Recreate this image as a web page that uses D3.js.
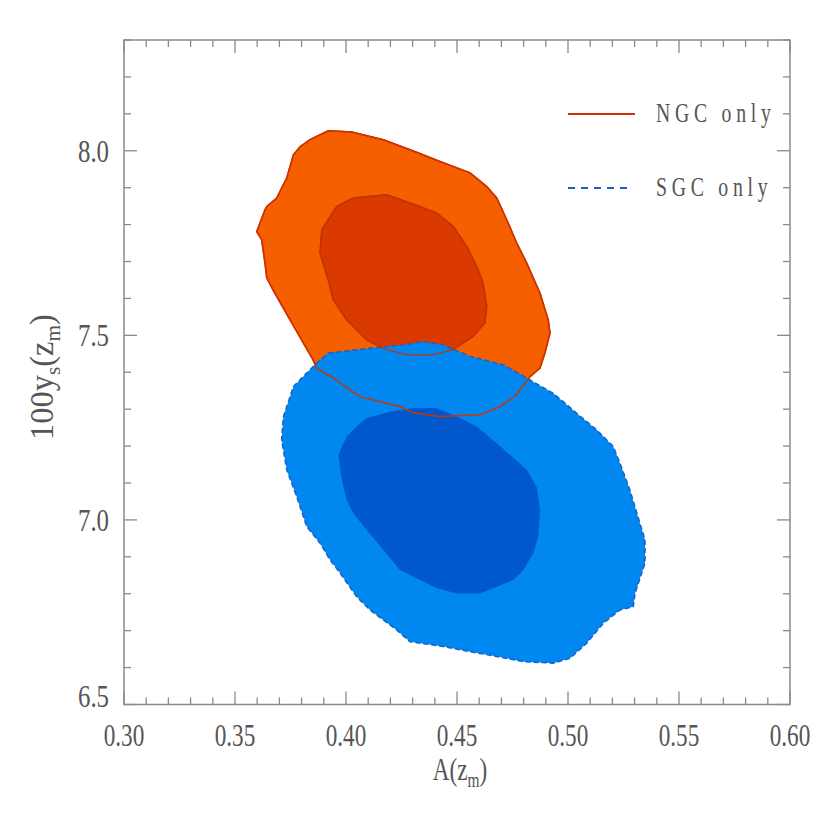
<!DOCTYPE html>
<html>
<head>
<meta charset="utf-8">
<script src="https://cdn.jsdelivr.net/npm/d3@7"></script>
<style>
body { margin: 0; background: #fff; }
text { font-family: "Liberation Serif", "DejaVu Serif", serif; fill: #555; }
</style>
</head>
<body>
<div id="chart"></div>
<script>
// contour outlines: [A(z_m), 100 y_s(z_m)]
var ngc_outer = [[0.392,8.054],[0.4026,8.051],[0.4168,8.030],[0.4318,7.996],[0.4423,7.971],[0.4559,7.940],[0.4634,7.903],[0.4679,7.872],[0.4724,7.813],[0.4769,7.750],[0.4814,7.696],[0.4874,7.614],[0.4911,7.542],[0.4919,7.506],[0.4896,7.452],[0.4874,7.411],[0.4829,7.388],[0.4769,7.339],[0.4694,7.307],[0.4604,7.285],[0.4423,7.280],[0.4302,7.290],[0.4243,7.307],[0.4063,7.334],[0.4018,7.352],[0.3958,7.379],[0.3868,7.411],[0.3851,7.434],[0.3748,7.542],[0.3671,7.623],[0.3643,7.656],[0.3635,7.696],[0.3620,7.759],[0.3598,7.781],[0.3635,7.840],[0.3643,7.849],[0.3688,7.872],[0.3710,7.899],[0.3733,7.926],[0.3763,7.989],[0.3793,8.011],[0.3838,8.030]];
var ngc_inner = [[0.4168,7.465],[0.4273,7.447],[0.4392,7.447],[0.4482,7.461],[0.4572,7.497],[0.4626,7.534],[0.4634,7.578],[0.4617,7.642],[0.4595,7.678],[0.4544,7.741],[0.4483,7.795],[0.4409,7.831],[0.4333,7.849],[0.4183,7.881],[0.4033,7.872],[0.3958,7.849],[0.3891,7.786],[0.3883,7.723],[0.3920,7.650],[0.3943,7.596],[0.4003,7.542],[0.4093,7.488]];
var sgc_outer = [[0.3920,7.452],[0.4108,7.465],[0.4258,7.474],[0.4348,7.483],[0.4438,7.474],[0.4559,7.443],[0.4709,7.420],[0.4829,7.379],[0.4934,7.343],[0.5039,7.289],[0.5129,7.244],[0.5204,7.199],[0.5234,7.154],[0.5279,7.081],[0.5324,6.991],[0.5347,6.946],[0.5347,6.883],[0.5302,6.801],[0.5294,6.765],[0.5234,6.756],[0.5159,6.720],[0.5084,6.666],[0.5009,6.625],[0.4934,6.612],[0.4799,6.616],[0.4679,6.630],[0.4559,6.643],[0.4438,6.657],[0.4288,6.670],[0.4228,6.702],[0.4108,6.756],[0.4048,6.792],[0.3973,6.856],[0.3928,6.892],[0.3883,6.937],[0.3823,6.982],[0.3778,7.063],[0.3733,7.136],[0.3710,7.217],[0.3718,7.280],[0.3763,7.361],[0.3823,7.398],[0.3868,7.425]];
var sgc_inner = [[0.4093,7.276],[0.4198,7.293],[0.4303,7.303],[0.4409,7.303],[0.4499,7.280],[0.4589,7.253],[0.4679,7.208],[0.4814,7.136],[0.4859,7.090],[0.4874,7.027],[0.4866,6.955],[0.4844,6.910],[0.4799,6.864],[0.4754,6.837],[0.4679,6.819],[0.4604,6.801],[0.4499,6.801],[0.4409,6.815],[0.4333,6.837],[0.4243,6.864],[0.4168,6.919],[0.4093,6.973],[0.4033,7.018],[0.4003,7.054],[0.3981,7.108],[0.3965,7.176],[0.4003,7.226],[0.4048,7.253]];

var x_ticks = [0.30,0.35,0.40,0.45,0.50,0.55,0.60];
var y_ticks = [6.5,7.0,7.5,8.0];
var legend_labels = ["NGC only","SGC only"];

var width = 830, height = 830;
var pl = 124, pr = 790, pt = 40, pb = 704.5;
var frame_col = "#8a8a8a";
var stretch = "scale(0.86,1.18)";

var svg = d3.select("#chart").append("svg")
  .attr("width", width)
  .attr("height", height)

var x = d3.scaleLinear().domain([0.30, 0.60]).range([pl, pr]);
var y = d3.scaleLinear().domain([6.5, 8.3]).range([pb, pt]);

var line = d3.line()
  .x(function(d){ return x(d[0]) })
  .y(function(d){ return y(d[1]) })
  .curve(d3.curveLinearClosed);

// filled regions first, NGC below SGC
svg.append("path").attr("d", line(ngc_outer)).attr("fill", "#f55f00").attr("stroke", "#cc3300").attr("stroke-width", 1.5)
svg.append("path").attr("d", line(ngc_inner)).attr("fill", "#da3a00").attr("stroke", "#c43300").attr("stroke-width", 1.5)
svg.append("path").attr("d", line(sgc_outer)).attr("fill", "#0088f0")
svg.append("path").attr("d", line(sgc_inner)).attr("fill", "#0058cc")
svg.append("path").attr("d", line(sgc_outer)).attr("fill", "none")
  .attr("stroke", "#1a5fc8").attr("stroke-width", 1.5).attr("stroke-dasharray", "5,3")
// NGC outlines on top
svg.append("path").attr("d", line(ngc_outer)).attr("fill", "none").attr("stroke", "#cc3300").attr("stroke-width", 1.5)
svg.append("path").attr("d", line(ngc_inner)).attr("fill", "none").attr("stroke", "#c43300").attr("stroke-width", 1.3)

// axes, ticks inward on all four sides
var xMinor = d3.range(30, 61).map(function(v){ return v/100 });
var yMinor = d3.range(65, 84).map(function(v){ return v/10 });

var ax = svg.append("g").attr("stroke", frame_col).attr("stroke-width", 1.3)
xMinor.forEach(function(v){
  var major = Math.round(v*100) % 5 == 0;
  var len = major ? 13 : 7;
  ax.append("line").attr("x1", x(v)).attr("x2", x(v)).attr("y1", pb).attr("y2", pb - len)
  ax.append("line").attr("x1", x(v)).attr("x2", x(v)).attr("y1", pt).attr("y2", pt + len)
})
yMinor.forEach(function(v){
  var major = Math.round(v*10) % 5 == 0;
  var len = major ? 13 : 7;
  ax.append("line").attr("y1", y(v)).attr("y2", y(v)).attr("x1", pl).attr("x2", pl + len)
  ax.append("line").attr("y1", y(v)).attr("y2", y(v)).attr("x1", pr).attr("x2", pr - len)
})
svg.append("rect")
  .attr("x", pl).attr("y", pt)
  .attr("width", pr - pl).attr("height", pb - pt)
  .attr("fill", "none").attr("stroke", frame_col).attr("stroke-width", 1.5)

svg.selectAll(".xlab").data(x_ticks).enter().append("text")
  .attr("class", "xlab")
  .attr("transform", function(d){ return "translate(" + x(d) + ",746)" + stretch })
  .attr("text-anchor", "middle")
  .attr("font-size", 27)
  .text(function(d){ return d3.format(".2f")(d) })

svg.selectAll(".ylab").data(y_ticks).enter().append("text")
  .attr("class", "ylab")
  .attr("transform", function(d){ return "translate(109," + ((d == 6.5 ? y(d) - 9 : y(d)) + 11) + ")scale(0.92,1.18)" })
  .attr("text-anchor", "end")
  .attr("font-size", 27)
  .text(function(d){ return d3.format(".1f")(d) })

// axis titles
var xt = svg.append("text").attr("transform", "translate(460,780)" + stretch).attr("text-anchor", "middle").attr("font-size", 27)
xt.append("tspan").text("A(z")
xt.append("tspan").attr("font-size", 18).attr("dy", 6).text("m")
xt.append("tspan").attr("dy", -6).text(")")

var yt = svg.append("text").attr("transform", "translate(53,377) rotate(-90) scale(1.12,1.15)").attr("text-anchor", "middle").attr("font-size", 29)
yt.append("tspan").text("100y")
yt.append("tspan").attr("font-size", 19).attr("dy", 6).text("s")
yt.append("tspan").attr("dy", -6).text("(z")
yt.append("tspan").attr("font-size", 19).attr("dy", 6).text("m")
yt.append("tspan").attr("dy", -6).text(")")

// legend
var leg = svg.append("g")
leg.append("line").attr("x1", 568).attr("x2", 635).attr("y1", 114).attr("y2", 114)
  .attr("stroke", "#cc3300").attr("stroke-width", 2)
leg.append("line").attr("x1", 568).attr("x2", 628).attr("y1", 188).attr("y2", 188)
  .attr("stroke", "#1a5fc8").attr("stroke-width", 2).attr("stroke-dasharray", "7,6")
leg.selectAll("text").data(legend_labels).enter().append("text")
  .attr("transform", function(d, i){ return "translate(656," + (122 + i*74) + ")" + stretch })
  .attr("font-size", 23)
  .attr("letter-spacing", 5.5)
  .text(function(d){ return d })
</script>
</body>
</html>
